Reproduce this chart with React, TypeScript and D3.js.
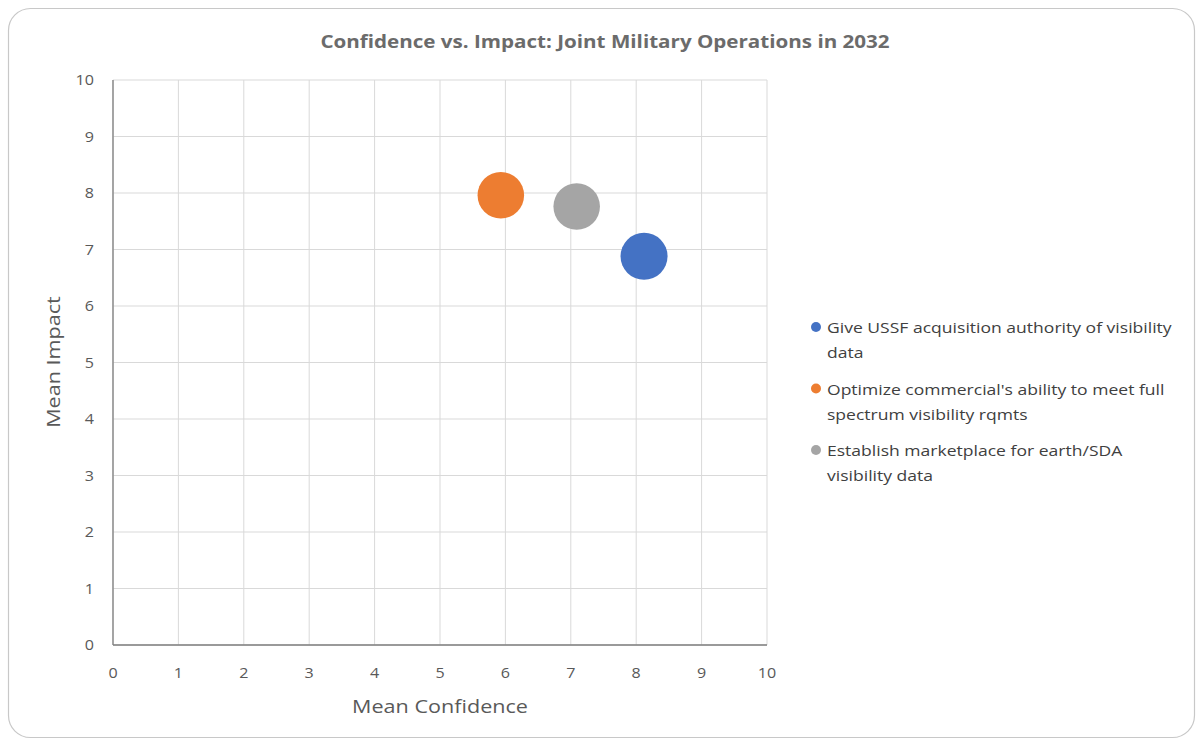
import React from "react";
import * as d3 from "d3";

const seriesNames = [
  "Give USSF acquisition authority of visibility data",
  "Optimize commercial's ability to meet full spectrum visibility rqmts",
  "Establish marketplace for earth/SDA visibility data",
];
const legendLines = [
  ["Give USSF acquisition authority of visibility", "data"],
  ["Optimize commercial's ability to meet full", "spectrum visibility rqmts"],
  ["Establish marketplace for earth/SDA", "visibility data"],
];
const confidence = [8.12, 5.93, 7.09];
const impact = [6.88, 7.96, 7.76];
const bubbleSize = [1.0, 0.98, 0.98];
const colors = ["#4472C4", "#ED7D31", "#A5A5A5"];
const xTicks = [0, 1, 2, 3, 4, 5, 6, 7, 8, 9, 10];
const yTicks = [0, 1, 2, 3, 4, 5, 6, 7, 8, 9, 10];

const W = 1199;
const H = 741;
const font = "'Open Sans', sans-serif";

function T(props: {
  x: number;
  y: number;
  sx?: number;
  size: number;
  anchor?: string;
  fill?: string;
  weight?: string;
  rotate?: number;
  children: React.ReactNode;
}) {
  const { x, y, sx = 1.15, size, anchor = "start", fill = "#595959", weight = "normal", rotate = 0 } = props;
  return (
    <g transform={`translate(${x},${y}) rotate(${rotate}) scale(${sx},1)`}>
      <text x={0} y={0} textAnchor={anchor} fontFamily={font} fontSize={size} fontWeight={weight} fill={fill}>
        {props.children}
      </text>
    </g>
  );
}

export default function App() {
  const x = d3.scaleLinear().domain([0, 10]).range([113, 767]);
  const y = d3.scaleLinear().domain([0, 10]).range([645, 80]);
  const r = d3.scaleSqrt().domain([0, 1]).range([0, 23.5]);

  return (
    <svg
      width={W}
      height={H}
      style={{ position: "absolute", left: 0, top: 0, background: "#fff" }}
    >
      <rect x={8.5} y={8.5} width={1186} height={729} rx={22} ry={22} fill="#fff" stroke="#c8c8c8" strokeWidth={1.2} />
      <T x={605} y={48} sx={1.145} size={18} anchor="middle" weight="bold" fill="#6b6b6b">
        Confidence vs. Impact: Joint Military Operations in 2032
      </T>
      {xTicks.map((t) => (
        <line key={"gx" + t} x1={x(t)} x2={x(t)} y1={y(0)} y2={y(10)} stroke="#d9d9d9" strokeWidth={1} />
      ))}
      {yTicks.map((t) => (
        <line key={"gy" + t} x1={x(0)} x2={x(10)} y1={y(t)} y2={y(t)} stroke="#d9d9d9" strokeWidth={1} />
      ))}
      <line x1={x(0)} x2={x(0)} y1={y(0)} y2={y(10)} stroke="#7f7f7f" strokeWidth={1.3} />
      <line x1={x(0)} x2={x(10)} y1={y(0)} y2={y(0)} stroke="#7f7f7f" strokeWidth={1.3} />
      {yTicks.map((t) => (
        <T key={"ty" + t} x={94} y={y(t) + 5} size={14} anchor="end">
          {t}
        </T>
      ))}
      {xTicks.map((t) => (
        <T key={"tx" + t} x={x(t)} y={678} size={14} anchor="middle">
          {t}
        </T>
      ))}
      <T x={440} y={713} sx={1.136} size={19} anchor="middle">
        Mean Confidence
      </T>
      <T x={60} y={362} sx={1.136} size={19} anchor="middle" rotate={-90}>
        Mean Impact
      </T>
      {confidence.map((c, i) => (
        <circle key={"b" + i} cx={x(c)} cy={y(impact[i])} r={r(bubbleSize[i])} fill={colors[i]}>
          <title>{seriesNames[i]}</title>
        </circle>
      ))}
      {legendLines.map((lines, i) => {
        const top = 327 + i * 61.5;
        return (
          <g key={"lg" + i}>
            <circle cx={816} cy={top} r={5} fill={colors[i]} />
            {lines.map((ln, j) => (
              <T key={j} x={827} y={top + 6 + j * 25} sx={1.17} size={15} fill="#404040">
                {ln}
              </T>
            ))}
          </g>
        );
      })}
    </svg>
  );
}
